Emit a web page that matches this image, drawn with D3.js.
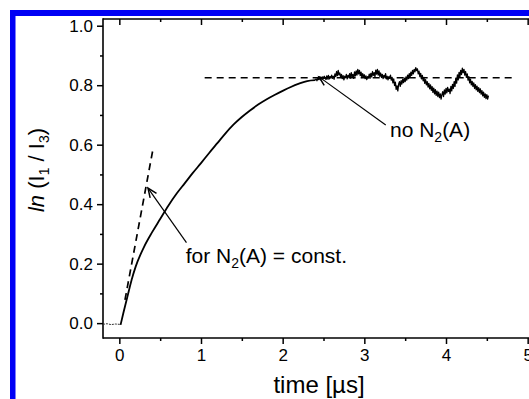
<!DOCTYPE html>
<html>
<head>
<meta charset="utf-8">
<script src="https://cdn.jsdelivr.net/npm/d3@7/dist/d3.min.js"></script>
<style>
    html, body { margin: 0; padding: 0; background: #fff; }
    svg { display: block; font-family: "Liberation Sans", Arial, sans-serif; }
</style>
</head>
<body>
<svg class="chart" width="529" height="399"></svg>
<script>
'use strict';

var CHART_WIDTH = 529;
var CHART_HEIGHT = 399;
var PLOT = { left: 103, right: 544, top: 19, bottom: 338 };

// axis ticks
var xMajorTicks = [0, 1, 2, 3, 4, 5];
var xMinorTicks = [0.5, 1.5, 2.5, 3.5, 4.5];
var yMajorTicks = [0.0, 0.2, 0.4, 0.6, 0.8, 1.0];
var yMinorTicks = [0.1, 0.3, 0.5, 0.7, 0.9];

// pre-trigger baseline, time in microseconds and ln(I1/I3)
var baseTime = [-0.2, -0.15, -0.1, -0.05, 0.0, 0.015];
var baseValue = [-0.004, -0.002, -0.005, -0.003, -0.004, -0.006];

// rising part of the measured curve
var riseTime = [
    0.015, 0.05, 0.1, 0.15, 0.2, 0.3, 0.4, 0.5, 0.6, 0.7, 0.8, 0.9, 1.0,
    1.1, 1.2, 1.3, 1.4, 1.5, 1.6, 1.7, 1.8, 1.9, 2.0, 2.1, 2.2, 2.3, 2.4
];
var riseValue = [
    -0.006, 0.035, 0.09, 0.145, 0.19, 0.255, 0.305, 0.35, 0.395, 0.435, 0.47, 0.505, 0.538,
    0.572, 0.605, 0.638, 0.668, 0.693, 0.715, 0.735, 0.752, 0.767, 0.781, 0.794, 0.805, 0.814, 0.817
];

// noisy plateau, sampled every 0.01 us from 2.40 us
var noiseStart = 2.40;
var noiseStep = 0.01;
var noiseValue = [
    0.817, 0.821, 0.815, 0.823, 0.819, 0.826, 0.818, 0.824, 0.821, 0.828,
    0.822, 0.830, 0.824, 0.819, 0.831, 0.825, 0.833, 0.821, 0.829, 0.826,
    0.834, 0.823, 0.830, 0.820, 0.838, 0.829, 0.846, 0.832, 0.850, 0.835,
    0.841, 0.827, 0.836, 0.822, 0.832, 0.818, 0.830, 0.825, 0.836, 0.821,
    0.833, 0.827, 0.839, 0.824, 0.842, 0.829, 0.836, 0.823, 0.845, 0.831,
    0.848, 0.834, 0.853, 0.838, 0.850, 0.832, 0.844, 0.826, 0.839, 0.828,
    0.835, 0.822, 0.831, 0.819, 0.829, 0.824, 0.837, 0.823, 0.840, 0.828,
    0.846, 0.833, 0.842, 0.829, 0.851, 0.837, 0.853, 0.834, 0.848, 0.830,
    0.841, 0.826, 0.836, 0.822, 0.833, 0.827, 0.839, 0.821, 0.830, 0.818,
    0.829, 0.823, 0.834, 0.817, 0.826, 0.808, 0.821, 0.799, 0.810, 0.786,
    0.798, 0.781, 0.803, 0.812, 0.796, 0.815, 0.804, 0.820, 0.809, 0.824,
    0.812, 0.828, 0.817, 0.834, 0.822, 0.839, 0.826, 0.844, 0.833, 0.850,
    0.838, 0.853, 0.845, 0.859, 0.849, 0.855, 0.838, 0.847, 0.829, 0.840,
    0.821, 0.833, 0.815, 0.826, 0.806, 0.819, 0.801, 0.812, 0.794, 0.806,
    0.788, 0.801, 0.783, 0.795, 0.776, 0.790, 0.771, 0.785, 0.766, 0.780,
    0.762, 0.777, 0.758, 0.771, 0.753, 0.768, 0.778, 0.762, 0.784, 0.770,
    0.789, 0.774, 0.793, 0.779, 0.787, 0.772, 0.796, 0.781, 0.803, 0.789,
    0.812, 0.796, 0.824, 0.807, 0.835, 0.818, 0.843, 0.827, 0.850, 0.836,
    0.857, 0.842, 0.853, 0.834, 0.846, 0.826, 0.838, 0.817, 0.829, 0.808,
    0.820, 0.801, 0.813, 0.796, 0.808, 0.789, 0.802, 0.784, 0.797, 0.779,
    0.792, 0.775, 0.788, 0.770, 0.782, 0.764, 0.777, 0.759, 0.771, 0.755,
    0.768, 0.753, 0.765
];

// dashed guide lines
var plateauTime = [1.045, 4.81];
var plateauValue = [0.825, 0.825];
var slopeTime = [0.069, 0.416];
var slopeValue = [0.078, 0.591];

// annotations
var noteText = ["no N", "for N"];
var noteTail = ["(A)", "(A) = const."];
var noteX = [3.314, 0.813];
var noteY = [0.626, 0.202];
var arrowFromX = [3.262, 0.822];
var arrowFromY = [0.666, 0.271];
var arrowToX = [2.445, 0.351];
var arrowToY = [0.828, 0.454];

var xScale = d3.scaleLinear().domain([-0.2, 5.2]).range([PLOT.left, PLOT.right]);
var yScale = d3.scaleLinear().domain([-0.05, 1.0226]).range([PLOT.bottom, PLOT.top]);

var line = d3.line()
    .x(function (d) { return xScale(d[0]); })
    .y(function (d) { return yScale(d[1]); });

var chart = d3.select('.chart');

// blue page frame
chart.append('rect').attr('x', 10).attr('y', 10).attr('width', 5.5).attr('height', CHART_HEIGHT - 10).attr('fill', '#0000f5');
chart.append('rect').attr('x', 10).attr('y', 10).attr('width', CHART_WIDTH - 10).attr('height', 6).attr('fill', '#0000f5');

renderAxes();
renderGuides();
renderCurve();
renderNotes();

function renderAxes() {
    // bottom axis, ticks out
    var xAxis = d3.axisBottom(xScale).tickValues(xMajorTicks).tickSize(6).tickPadding(4)
        .tickFormat(d3.format('d'));
    var gx = chart.append('g').attr('transform', 'translate(0,' + PLOT.bottom + ')').call(xAxis);
    chart.append('g').attr('transform', 'translate(0,' + PLOT.bottom + ')')
        .call(d3.axisBottom(xScale).tickValues(xMinorTicks).tickSize(3).tickFormat(''));

    // top axis, ticks in
    chart.append('g').attr('transform', 'translate(0,' + PLOT.top + ')')
        .call(d3.axisBottom(xScale).tickValues(xMajorTicks).tickSize(6).tickFormat(''));
    chart.append('g').attr('transform', 'translate(0,' + PLOT.top + ')')
        .call(d3.axisBottom(xScale).tickValues(xMinorTicks).tickSize(3).tickFormat(''));

    // left axis, ticks out
    var yAxis = d3.axisLeft(yScale).tickValues(yMajorTicks).tickSize(6).tickPadding(4)
        .tickFormat(d3.format('.1f'));
    chart.append('g').attr('transform', 'translate(' + PLOT.left + ',0)').call(yAxis);
    chart.append('g').attr('transform', 'translate(' + PLOT.left + ',0)')
        .call(d3.axisLeft(yScale).tickValues(yMinorTicks).tickSize(3).tickFormat(''));

    chart.selectAll('.domain').remove();
    chart.selectAll('.tick line').attr('stroke', '#000').attr('stroke-width', 1.5);
    chart.selectAll('.tick text').attr('fill', '#000').style('font-size', '17px')
        .style('font-family', '"Liberation Sans", Arial, sans-serif');
    gx.selectAll('.tick text').attr('dy', '0.75em');

    // frame lines
    chart.append('line').attr('x1', PLOT.left).attr('x2', PLOT.right).attr('y1', PLOT.top).attr('y2', PLOT.top)
        .attr('stroke', '#000').attr('stroke-width', 1.6);
    chart.append('line').attr('x1', PLOT.left).attr('x2', PLOT.right).attr('y1', PLOT.bottom).attr('y2', PLOT.bottom)
        .attr('stroke', '#000').attr('stroke-width', 1.6);
    chart.append('line').attr('x1', PLOT.left).attr('x2', PLOT.left).attr('y1', PLOT.top - 0.8).attr('y2', PLOT.bottom + 0.8)
        .attr('stroke', '#000').attr('stroke-width', 1.6);

    // axis titles
    chart.append('text').attr('x', 319).attr('y', 393).attr('text-anchor', 'middle')
        .style('font-size', '24px').text('time [\u00b5s]');

    var yTitle = chart.append('text').attr('text-anchor', 'middle')
        .attr('transform', 'translate(44,170) rotate(-90)').style('font-size', '22px');
    yTitle.append('tspan').style('font-style', 'italic').text('ln');
    yTitle.append('tspan').text(' (I');
    yTitle.append('tspan').attr('dy', 5).style('font-size', '14px').text('1');
    yTitle.append('tspan').attr('dy', -5).text(' / I');
    yTitle.append('tspan').attr('dy', 5).style('font-size', '14px').text('3');
    yTitle.append('tspan').attr('dy', -5).text(')');
}

function renderGuides() {
    chart.append('path')
        .datum(d3.zip(plateauTime, plateauValue))
        .attr('d', line).attr('fill', 'none').attr('stroke', '#000')
        .attr('stroke-width', 1.7).attr('stroke-dasharray', '7,5');

    chart.append('path')
        .datum(d3.zip(slopeTime, slopeValue))
        .attr('d', line).attr('fill', 'none').attr('stroke', '#000')
        .attr('stroke-width', 1.7).attr('stroke-dasharray', '7,5');
}

function renderCurve() {
    // thin pre-trigger baseline
    chart.append('path')
        .datum(d3.zip(baseTime, baseValue))
        .attr('d', line).attr('fill', 'none').attr('stroke', '#333')
        .attr('stroke-width', 1).attr('stroke-dasharray', '2,1');

    chart.append('path')
        .datum(d3.zip(riseTime, riseValue))
        .attr('d', line.curve(d3.curveMonotoneX)).attr('fill', 'none').attr('stroke', '#000')
        .attr('stroke-width', 1.8).attr('stroke-linejoin', 'round');
    line.curve(d3.curveLinear);

    var noisePts = noiseValue.map(function (v, i) { return [noiseStart + i * noiseStep, v]; });
    chart.append('path')
        .datum(noisePts)
        .attr('d', line).attr('fill', 'none').attr('stroke', '#000')
        .attr('stroke-width', 1.3).attr('stroke-linejoin', 'round');
}

function renderNotes() {
    for (var i = 0; i < noteText.length; i++) {
        var x1 = xScale(arrowFromX[i]), y1 = yScale(arrowFromY[i]);
        var x2 = xScale(arrowToX[i]), y2 = yScale(arrowToY[i]);
        chart.append('line').attr('x1', x1).attr('y1', y1).attr('x2', x2).attr('y2', y2)
            .attr('stroke', '#000').attr('stroke-width', 1.2);

        // open arrow head
        var ang = Math.atan2(y2 - y1, x2 - x1);
        var len = 10, spread = 0.4;
        var head = [
            [x2 - len * Math.cos(ang - spread), y2 - len * Math.sin(ang - spread)],
            [x2, y2],
            [x2 - len * Math.cos(ang + spread), y2 - len * Math.sin(ang + spread)]
        ];
        chart.append('path').attr('d', d3.line()(head)).attr('fill', 'none')
            .attr('stroke', '#000').attr('stroke-width', 1.5);

        var t = chart.append('text').attr('x', xScale(noteX[i])).attr('y', yScale(noteY[i]))
            .style('font-size', '21px');
        t.append('tspan').text(noteText[i]);
        t.append('tspan').attr('dy', 5).style('font-size', '14px').text('2');
        t.append('tspan').attr('dy', -5).text(noteTail[i]);
    }
}
</script>
</body>
</html>
